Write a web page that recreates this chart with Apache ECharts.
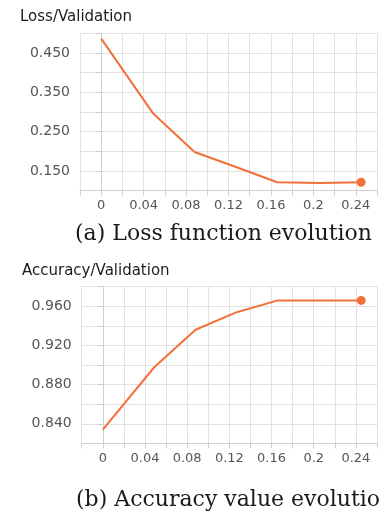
<!DOCTYPE html>
<html>
<head>
<meta charset="utf-8">
<script src="https://cdn.jsdelivr.net/npm/echarts@6/dist/echarts.min.js"></script>
<style>
html,body{margin:0;padding:0;background:#fff;}
#c{width:380px;height:511px;}
</style>
</head>
<body>
<div id="c"></div>
<script>
// Data
const steps = [0, 0.049, 0.088, 0.127, 0.166, 0.206, 0.245];
const lossValues = [0.487, 0.296, 0.198, 0.160, 0.121, 0.119, 0.121];
const accuracyValues = [0.834, 0.898, 0.936, 0.954, 0.966, 0.966, 0.966];
const xTickLabels = ['0', '0.04', '0.08', '0.12', '0.16', '0.2', '0.24'];
const lossTickLabels = ['0.150', '0.250', '0.350', '0.450'];
const accTickLabels = ['0.840', '0.880', '0.920', '0.960'];
const titles = ['Loss/Validation', 'Accuracy/Validation'];
const captions = ['(a) Loss function evolution', '(b) Accuracy value evolution'];

const ORANGE = '#f3703a';
const LABEL_FONT = 'DejaVu Sans';

function pairs(xs, ys) {
  return xs.map((x, i) => ({
    value: [x, ys[i]],
    symbolSize: i === xs.length - 1 ? 9 : 0
  }));
}

function xAxis(gridIndex) {
  return {
    type: 'value', gridIndex: gridIndex,
    min: -0.02, max: 0.26, interval: 0.02,
    axisLine: {show: true, lineStyle: {color: '#cfcfcf', width: 1}},
    axisTick: {show: true, length: 5, lineStyle: {color: '#cfcfcf'}},
    splitLine: {show: true, lineStyle: {color: '#e2e2e2', width: 1}},
    axisLabel: {
      margin: 9, color: '#555', fontFamily: LABEL_FONT, fontSize: 13,
      showMinLabel: true, showMaxLabel: true,
      formatter: function (v) {
        const k = Math.round(v / 0.02);
        if (k < 0 || k % 2 !== 0) return '';
        const idx = k / 2;
        return idx < xTickLabels.length ? xTickLabels[idx] : '';
      }
    }
  };
}

function yAxis(gridIndex, min, max, interval, labels, first) {
  return {
    type: 'value', gridIndex: gridIndex,
    min: min, max: max, interval: interval,
    axisLine: {show: true, lineStyle: {color: '#cfcfcf', width: 1}},
    axisTick: {show: true, length: 5, lineStyle: {color: '#cfcfcf'}},
    splitLine: {show: true, lineStyle: {color: '#e2e2e2', width: 1}},
    axisLabel: {
      margin: 10, color: '#555', fontFamily: LABEL_FONT, fontSize: 14,
      showMinLabel: true, showMaxLabel: true,
      formatter: function (v) {
        const k = Math.round((v - first) / (interval * 2));
        const exact = first + k * interval * 2;
        if (Math.abs(v - exact) > interval / 4) return '';
        return (k >= 0 && k < labels.length) ? labels[k] : '';
      }
    }
  };
}

const chart = echarts.init(document.getElementById('c'), null, {renderer: 'canvas'});
chart.setOption({
  backgroundColor: '#fff',
  animation: false,
  title: [
    {text: titles[0], left: 15, top: 5, textStyle: {fontFamily: LABEL_FONT, fontSize: 15, fontWeight: 'normal', color: '#1c1c1c'}},
    {text: captions[0], left: 70, top: 218, textStyle: {fontFamily: 'DejaVu Serif', fontSize: 22, fontWeight: 'normal', color: '#1a1a1a'}},
    {text: titles[1], left: 17, top: 259, textStyle: {fontFamily: LABEL_FONT, fontSize: 15, fontWeight: 'normal', color: '#1c1c1c'}},
    {text: captions[1], left: 71, top: 484, textStyle: {fontFamily: 'DejaVu Serif', fontSize: 22, fontWeight: 'normal', color: '#1a1a1a'}}
  ],
  grid: [
    {left: 80, top: 33.5, width: 303.3, height: 157, containLabel: false},
    {left: 81.7, top: 286.7, width: 303.3, height: 156.7, containLabel: false}
  ],
  xAxis: [xAxis(0), xAxis(1)],
  yAxis: [
    yAxis(0, 0.1, 0.5, 0.05, lossTickLabels, 0.15),
    yAxis(1, 0.82, 0.98, 0.02, accTickLabels, 0.84)
  ],
  series: [
    {
      type: 'line', xAxisIndex: 0, yAxisIndex: 0,
      data: pairs(steps, lossValues),
      symbol: 'circle', showSymbol: true,
      lineStyle: {color: ORANGE, width: 2},
      itemStyle: {color: ORANGE},
      clip: false
    },
    {
      type: 'line', xAxisIndex: 1, yAxisIndex: 1,
      data: pairs(steps, accuracyValues),
      symbol: 'circle', showSymbol: true,
      lineStyle: {color: ORANGE, width: 2},
      itemStyle: {color: ORANGE},
      clip: false
    }
  ]
});
</script>
</body>
</html>
